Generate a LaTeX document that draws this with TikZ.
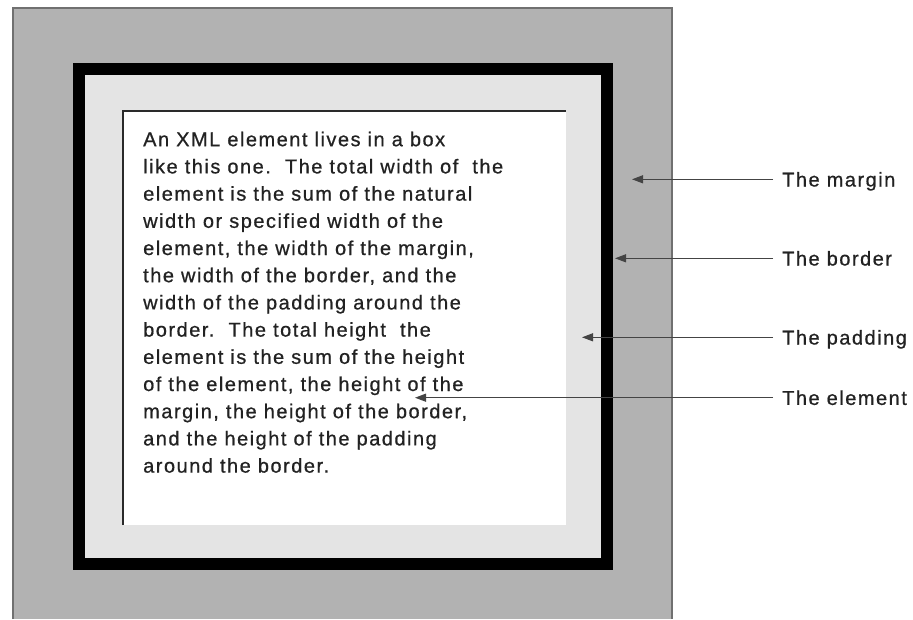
\documentclass[tikz,border=0pt]{standalone}
\usepackage{fontspec}
\setmainfont{Liberation Sans}[LetterSpace=7.5, FakeBold=0.7]
\usetikzlibrary{arrows.meta}
\definecolor{margingray}{HTML}{B2B2B2}
\definecolor{marginedge}{HTML}{707070}
\definecolor{padgray}{HTML}{E4E4E4}
\definecolor{elemline}{HTML}{2A2A2A}
\definecolor{inkgray}{HTML}{222222}
\definecolor{arrgray}{HTML}{444444}
\tikzset{
  lab/.style={anchor=west, inner xsep=9pt, inner ysep=0pt, text height=14.4pt, text depth=0pt,
    font=\fontsize{20}{24}\selectfont, text=inkgray},
  arr/.style={draw=arrgray, line width=1.2pt, -{Triangle[length=11pt,width=8pt]}},
  bodytext/.style={anchor=north west, inner sep=0pt, align=left,
    font=\fontsize{20}{27.2}\selectfont, text=inkgray}
}
\begin{document}
\begin{tikzpicture}[x=1pt,y=-1pt]
\useasboundingbox (0,0) rectangle (913,619);
\fill[white] (0,0) rectangle (913,619);
% margin
\fill[margingray] (13,8) rectangle (672,619);
\draw[marginedge, line width=1.5pt] (13,619) -- (13,8) -- (672,8) -- (672,619);
% border
\fill[black] (73,63) rectangle (613,570);
% padding
\fill[padgray] (85,75) rectangle (601,558);
% element
\fill[white] (122,110) rectangle (566,525);
\draw[elemline, line width=2pt] (123,525) -- (123,111) -- (566,111);
% text of the element
\node[bodytext] (body) at (143,131.5) {An XML element lives in a box\\
like this one.\ \ The total width of\ \ the\\
element is the sum of the natural\\
width or specified width of the\\
element, the width of the margin,\\
the width of the border, and the\\
width of the padding around the\\
border.\ \ The total height\ \ the\\
element is the sum of the height\\
of the element, the height of the\\
margin, the height of the border,\\
and the height of the padding\\
around the border.};
% labels
\node[lab] (lm) at (773,179.3) {The margin};
\node[lab] (lb) at (773,258.3) {The border};
\node[lab] (lp) at (773,337.3) {The padding};
\node[lab] (le) at (773,397.7) {The element};
\coordinate (tm) at (632,179.3);
\coordinate (tb) at (615,258.3);
\coordinate (tp) at (582,337.3);
\coordinate (te) at (415,397.7);
\draw[arr] (lm.west) -- (tm);
\draw[arr] (lb.west) -- (tb);
\draw[arr] (lp.west) -- (tp);
\draw[arr] (le.west) -- (te);
\end{tikzpicture}
\end{document}
